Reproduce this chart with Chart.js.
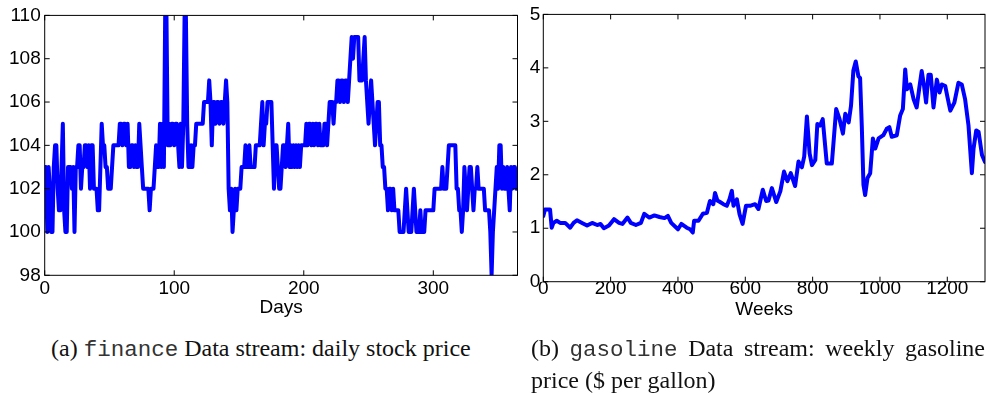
<!DOCTYPE html>
<html>
<head>
<meta charset="utf-8">
<script src="https://cdn.jsdelivr.net/npm/chart.js@4/dist/chart.umd.min.js"></script>
<style>
  body { margin: 0; background: #fff; width: 990px; height: 394px; overflow: hidden; position: relative; }
  canvas { position: absolute; top: 0; }
  #financeChart { left: 0; }
  #gasChart { left: 525px; }
  .cap { position: absolute; font-family: "Liberation Serif", "Times New Roman", serif; font-size: 24px;
         line-height: 29.5px; color: #111; white-space: nowrap; }
  .cap code { font-family: "Liberation Mono", "Courier New", monospace; font-size: 22.5px; color: #333; }
  #capA { left: 51px; top: 334px; }
  #capB { left: 531px; top: 334px; width: 454px; }
  #capB .l1 { text-align: justify; text-align-last: justify; white-space: normal; }
</style>
</head>
<body>
<canvas id="financeChart" width="530" height="330"></canvas>
<canvas id="gasChart" width="465" height="330"></canvas>
<div class="cap" id="capA">(a) <code>finance</code> Data stream: daily stock price</div>
<div class="cap" id="capB"><div class="l1">(b) <code>gasoline</code> Data stream: weekly gasoline</div><div>price ($ per gallon)</div></div>
<script>
// Daily closing price of the stock, one value per day starting at day 0
const financePrice = [
  103,103,100,103,102,100,100,103,104,104,
  102,101,101,103,105,101,100,100,103,103,
  103,102,103,100,103,103,104,104,102,103,
  103,104,104,103,104,102,104,104,102,102,
  102,101,101,103,105,104,104,103,103,102,
  102,102,103,104,104,104,104,104,105,105,
  104,105,105,104,105,103,103,104,104,103,
  104,103,103,105,104,103,102,102,102,102,
  102,101,102,102,102,103,104,103,103,105,
  103,105,103,110,110,104,105,104,105,105,
  104,105,105,104,103,105,103,105,110,110,
  105,103,103,104,103,104,104,105,105,105,
  105,105,105,106,106,106,106,107,106,104,
  106,106,105,106,106,105,106,106,105,106,
  107,106,102,101,102,100,101,102,101,102,
  102,102,103,103,103,104,103,103,104,103,
  103,103,103,104,104,104,104,105,106,104,
  105,105,106,106,106,106,104,102,104,104,
  103,102,102,103,104,104,103,104,105,103,
  104,103,104,103,104,103,104,103,104,104,
  104,104,105,104,105,105,104,105,104,105,
  105,104,105,104,104,104,105,105,104,105,
  106,106,106,105,106,106,107,107,106,107,
  107,106,107,107,106,107,108,109,108,109,
  109,109,109,107,107,107,108,109,107,106,
  105,106,107,106,105,104,105,106,106,104,
  104,103,103,102,102,101,102,102,101,102,
  101,101,101,101,100,100,100,100,101,102,
  101,100,100,100,101,102,101,100,100,100,
  101,100,100,100,101,101,101,101,101,101,
  101,102,102,102,102,102,102,103,102,102,
  102,103,104,104,104,104,104,104,102,102,
  101,101,100,101,103,102,101,102,103,103,
  102,101,102,102,103,102,102,102,102,102,
  101,101,101,101,100,98,100,101,102,103,
  102,104,104,102,103,102,102,103,102,101,
  103,102,103,103,102
];
const dayTicks = [0, 100, 200, 300];
const priceTicks = [98, 100, 102, 104, 106, 108, 110];

// Weekly gasoline price in dollars per gallon
const gasWeek = [
  0,5,10,20,25,30,40,50,65,80,
  90,100,115,130,145,160,170,180,195,210,
  225,235,250,260,275,290,300,315,330,345,
  360,370,380,400,410,426,436,444,448,461,
  474,486,495,505,510,517,525,535,545,553,
  560,565,575,583,592,602,614,629,639,652,
  662,669,679,692,704,715,725,735,748,758,
  768,775,783,791,798,808,814,822,830,842,
  857,870,880,890,897,907,914,921,928,936,
  941,946,951,956,963,971,979,986,996,1010,
  1020,1028,1035,1050,1060,1068,1075,1080,1090,1100,
  1109,1117,1124,1131,1137,1144,1151,1159,1169,1177,
  1184,1194,1201,1209,1221,1233,1243,1253,1263,1273,
  1278,1286,1293,1303,1312
];
const gasPrice = [
  1.23,1.35,1.35,1.35,1.01,1.10,1.14,1.10,1.10,1.01,
  1.10,1.15,1.10,1.05,1.10,1.06,1.08,1.00,1.05,1.17,
  1.10,1.08,1.20,1.10,1.06,1.10,1.27,1.20,1.24,1.21,
  1.19,1.23,1.10,0.98,1.08,1.01,0.98,0.92,1.14,1.14,
  1.27,1.29,1.51,1.45,1.66,1.52,1.49,1.45,1.42,1.54,
  1.70,1.42,1.54,1.26,1.08,1.42,1.42,1.45,1.36,1.72,
  1.51,1.52,1.75,1.49,1.69,2.06,1.88,2.03,1.79,2.25,
  2.14,2.34,3.09,2.40,2.18,2.28,2.95,2.92,3.04,2.21,
  2.21,3.23,3.04,2.77,3.14,2.98,3.29,3.95,4.12,3.84,
  3.81,2.92,1.81,1.62,1.94,2.03,2.68,2.49,2.68,2.74,
  2.86,2.89,2.71,2.74,3.11,3.23,3.97,3.60,3.69,3.41,
  3.26,3.63,3.94,3.66,3.35,3.87,3.87,3.26,3.78,3.54,
  3.69,3.66,3.44,3.20,3.35,3.72,3.69,3.41,2.92,2.03,
  2.49,2.83,2.80,2.37,2.24
];
const weekTicks = [0, 200, 400, 600, 800, 1000, 1200];
const gasTicks = [0, 1, 2, 3, 4, 5];

const tickFont = { family: '"Liberation Sans", Arial, sans-serif', size: 19 };

// Box around the plot area with short inward tick marks on all four sides
const boxFrame = {
  id: 'boxFrame',
  afterDraw(chart) {
    const { ctx, chartArea: a, scales: { x, y } } = chart;
    const len = 5;
    ctx.save();
    ctx.strokeStyle = '#000';
    ctx.lineWidth = 1;
    ctx.strokeRect(a.left, a.top, a.right - a.left, a.bottom - a.top);
    ctx.beginPath();
    x.ticks.forEach(t => {
      const px = x.getPixelForValue(t.value);
      ctx.moveTo(px, a.bottom); ctx.lineTo(px, a.bottom - len);
      ctx.moveTo(px, a.top); ctx.lineTo(px, a.top + len);
    });
    y.ticks.forEach(t => {
      const py = y.getPixelForValue(t.value);
      ctx.moveTo(a.left, py); ctx.lineTo(a.left + len, py);
      ctx.moveTo(a.right, py); ctx.lineTo(a.right - len, py);
    });
    ctx.stroke();
    ctx.restore();
  }
};

const plainNumber = v => String(v);

function makeChart(id, points, lineWidth, xr, yr, xTicks, yTicks, xTitle, geo) {
  return new Chart(document.getElementById(id), {
    type: 'line',
    data: {
      datasets: [{
        data: points,
        borderColor: '#0000ff',
        borderWidth: lineWidth,
        pointRadius: 0,
        tension: 0,
        borderJoinStyle: 'round',
        borderCapStyle: 'round',
        clip: 0
      }]
    },
    options: {
      responsive: false,
      animation: false,
      events: [],
      layout: { padding: { top: geo.top, right: geo.right, left: 0, bottom: 0 } },
      plugins: { legend: { display: false }, tooltip: { enabled: false } },
      scales: {
        x: {
          type: 'linear', min: xr[0], max: xr[1],
          afterBuildTicks: s => { s.ticks = xTicks.map(v => ({ value: v })); },
          afterFit: s => { s.height = geo.xHeight; },
          grid: { display: false, drawTicks: false },
          border: { display: false },
          ticks: { font: tickFont, color: '#000', padding: geo.xPad, maxRotation: 0, autoSkip: false, callback: plainNumber },
          title: { display: true, text: xTitle, color: '#000', font: tickFont, padding: { top: 0, bottom: geo.titlePad } }
        },
        y: {
          type: 'linear', min: yr[0], max: yr[1],
          afterBuildTicks: s => { s.ticks = yTicks.map(v => ({ value: v })); },
          afterFit: s => { s.width = geo.yWidth; },
          grid: { display: false, drawTicks: false },
          border: { display: false },
          ticks: { font: tickFont, color: '#000', padding: geo.yPad, autoSkip: false, callback: plainNumber }
        }
      }
    },
    plugins: [boxFrame]
  });
}

makeChart('financeChart',
  financePrice.map((v, i) => ({ x: i, y: v })), 4,
  [0, 365], [98, 110], dayTicks, priceTicks, 'Days',
  { top: 11.7, right: 12.5, yWidth: 44.7, xHeight: 330 - 275.3, xPad: 2, yPad: 4, titlePad: 11 });

makeChart('gasChart',
  gasWeek.map((w, i) => ({ x: w, y: gasPrice[i] })), 4,
  [0, 1312], [0, 5], weekTicks, gasTicks, 'Weeks',
  { top: 10.7, right: 5, yWidth: 18.3, xHeight: 330 - 281.7, xPad: -4, yPad: 3, titlePad: 9 });
</script>
</body>
</html>
